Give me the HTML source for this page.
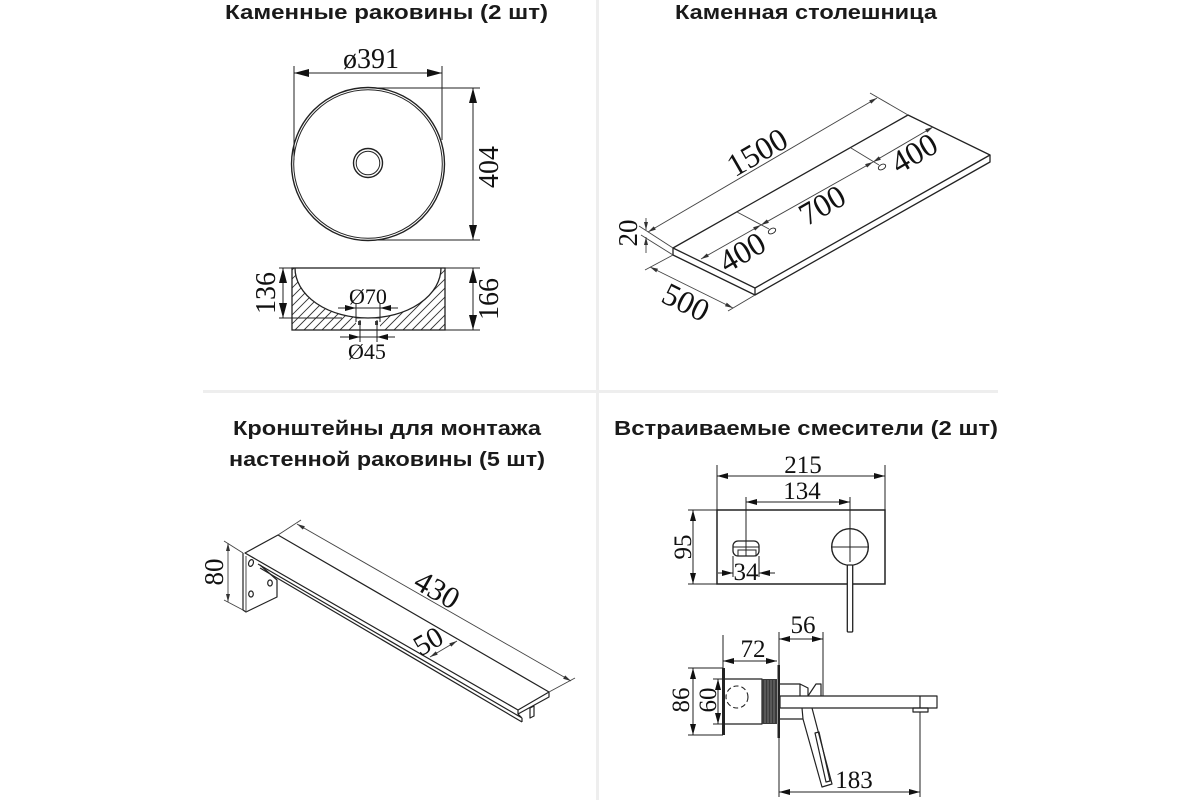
<!DOCTYPE html>
<html><head><meta charset="utf-8">
<style>
html,body{margin:0;padding:0;background:#fff;}
svg{display:block;}
.t{font-family:"Liberation Sans","DejaVu Sans",sans-serif;font-weight:700;font-size:20px;fill:#1a1a1a;}
.d{font-family:"Liberation Serif","DejaVu Serif",serif;fill:#111;}
</style></head><body>
<svg width="1200" height="800" viewBox="0 0 1200 800" xmlns="http://www.w3.org/2000/svg">
<defs>
<marker id="A" markerUnits="userSpaceOnUse" markerWidth="15" markerHeight="8" refX="15" refY="4" orient="auto-start-reverse"><path d="M0,0L15,4L0,8Z" fill="#111"/></marker>
<marker id="M" markerUnits="userSpaceOnUse" markerWidth="11" markerHeight="6" refX="11" refY="3" orient="auto-start-reverse"><path d="M0,0L11,3L0,6Z" fill="#111"/></marker>
<marker id="S" markerUnits="userSpaceOnUse" markerWidth="8" markerHeight="4" refX="8" refY="2" orient="auto-start-reverse"><path d="M0,0L8,2L0,4Z" fill="#333"/></marker>
<clipPath id="hc"><path clip-rule="evenodd" d="M292,268H445V330H292Z M295,268A73,50 0 0 0 441,268Z"/></clipPath>
</defs>

<!-- separators -->
<rect x="596" y="0" width="3" height="800" fill="#eeeeee"/>
<rect x="203" y="390" width="795" height="3" fill="#eeeeee"/>

<!-- titles -->
<text class="t" x="225" y="19" textLength="323" lengthAdjust="spacingAndGlyphs">Каменные раковины (2 шт)</text>
<text class="t" x="675" y="19" textLength="262" lengthAdjust="spacingAndGlyphs">Каменная столешница</text>
<text class="t" x="233" y="435" textLength="308" lengthAdjust="spacingAndGlyphs">Кронштейны для монтажа</text>
<text class="t" x="229" y="466" textLength="316" lengthAdjust="spacingAndGlyphs">настенной раковины (5 шт)</text>
<text class="t" x="614" y="435" textLength="384" lengthAdjust="spacingAndGlyphs">Встраиваемые смесители (2 шт)</text>

<!-- ===== SINK TOP ===== -->
<g stroke="#222" fill="none">
<circle cx="368" cy="164" r="76.5" stroke-width="1.4"/>
<circle cx="368" cy="164" r="74.3" stroke-width="1"/>
<circle cx="368" cy="163" r="14.5" stroke-width="1.4"/>
<circle cx="368" cy="163" r="11.8" stroke-width="1"/>
</g>
<g stroke="#222" stroke-width="1" fill="none">
<line x1="294" y1="66" x2="294" y2="160"/>
<line x1="442" y1="66" x2="442" y2="140"/>
<line x1="294" y1="73" x2="442" y2="73" marker-start="url(#A)" marker-end="url(#A)"/>
<line x1="372" y1="88" x2="480" y2="88"/>
<line x1="376" y1="240" x2="480" y2="240"/>
<line x1="473" y1="88" x2="473" y2="240" marker-start="url(#A)" marker-end="url(#A)"/>
</g>
<text class="d" x="371" y="68" font-size="28" text-anchor="middle">ø391</text>
<text class="d" font-size="28" text-anchor="middle" transform="translate(498,167) rotate(-90)">404</text>

<!-- ===== SINK SECTION ===== -->
<g clip-path="url(#hc)">
<path stroke="#333" stroke-width="0.9" fill="none" d="M232,330L294,268M241,330L303,268M250,330L312,268M259,330L321,268M268,330L330,268M277,330L339,268M286,330L348,268M295,330L357,268M304,330L366,268M313,330L375,268M322,330L384,268M331,330L393,268M340,330L402,268M349,330L411,268M358,330L420,268M367,330L429,268M376,330L438,268M385,330L447,268M394,330L456,268M403,330L465,268M412,330L474,268M421,330L483,268M430,330L492,268M439,330L501,268"/>
</g>
<rect x="356" y="316" width="24" height="14" fill="#fff"/>
<g stroke="#222" fill="none">
<rect x="292" y="268" width="153" height="62" stroke-width="1.3"/>
<path d="M295,268A73,50 0 0 0 441,268" stroke-width="1.3"/>
<path d="M356,318H380" stroke-width="1"/>
</g>
<rect x="358" y="321" width="3" height="4" fill="#444"/>
<rect x="375" y="321" width="3" height="4" fill="#444"/>
<g stroke="#222" stroke-width="1" fill="none">
<line x1="356" y1="303" x2="356" y2="322"/>
<line x1="380" y1="303" x2="380" y2="322"/>
<line x1="338" y1="308" x2="398" y2="308"/>
<line x1="338" y1="308" x2="356" y2="308" marker-end="url(#M)"/>
<line x1="398" y1="308" x2="380" y2="308" marker-end="url(#M)"/>
<line x1="360" y1="320" x2="360" y2="342"/>
<line x1="377" y1="320" x2="377" y2="342"/>
<line x1="340" y1="337" x2="395" y2="337"/>
<line x1="340" y1="337" x2="360" y2="337" marker-end="url(#M)"/>
<line x1="395" y1="337" x2="377" y2="337" marker-end="url(#M)"/>
<line x1="279" y1="268" x2="292" y2="268"/>
<line x1="279" y1="318" x2="342" y2="318"/>
<line x1="283" y1="268" x2="283" y2="318" marker-start="url(#A)" marker-end="url(#A)"/>
<line x1="445" y1="268" x2="480" y2="268"/>
<line x1="445" y1="330" x2="480" y2="330"/>
<line x1="473" y1="268" x2="473" y2="330" marker-start="url(#A)" marker-end="url(#A)"/>
</g>
<text class="d" x="368" y="304" font-size="22" text-anchor="middle">Ø70</text>
<text class="d" x="367" y="359" font-size="22" text-anchor="middle">Ø45</text>
<text class="d" font-size="28" text-anchor="middle" transform="translate(275,293) rotate(-90)">136</text>
<text class="d" font-size="28" text-anchor="middle" transform="translate(498,299) rotate(-90)">166</text>

<!-- ===== COUNTERTOP ===== -->
<g stroke="#222" stroke-width="1.3" fill="none" stroke-linejoin="round">
<path d="M673,248L908,115L990,155L755,288Z"/>
<path d="M673,248V255L755,295L990,162V155M755,288V295"/>
</g>
<g stroke="#444" stroke-width="0.9" fill="none">
<line x1="673" y1="248" x2="639" y2="226"/>
<line x1="908" y1="115" x2="870" y2="93"/>
<line x1="648" y1="232" x2="877" y2="98" marker-start="url(#S)" marker-end="url(#S)"/>
<line x1="673" y1="255" x2="641" y2="235"/>
<line x1="646" y1="218" x2="646" y2="230" marker-end="url(#S)"/>
<line x1="646" y1="253" x2="646" y2="237" marker-end="url(#S)"/>
<line x1="673" y1="255" x2="645" y2="270"/>
<line x1="755" y1="295" x2="728" y2="311"/>
<line x1="650" y1="267" x2="733" y2="308" marker-start="url(#S)" marker-end="url(#S)"/>
<line x1="737" y1="212" x2="769" y2="229"/>
<line x1="851" y1="148" x2="879" y2="165"/>
<line x1="701" y1="259" x2="761" y2="225" marker-start="url(#S)" marker-end="url(#S)"/>
<line x1="761" y1="225" x2="873" y2="162" marker-start="url(#S)" marker-end="url(#S)"/>
<line x1="873" y1="162" x2="933" y2="127" marker-start="url(#S)" marker-end="url(#S)"/>
<ellipse cx="772" cy="231" rx="4" ry="2.5" transform="rotate(-30 772 231)" stroke="#222"/>
<ellipse cx="882" cy="167" rx="4" ry="2.5" transform="rotate(-30 882 167)" stroke="#222"/>
</g>
<text class="d" font-size="32" text-anchor="middle" y="11" transform="translate(757,152) rotate(-30)">1500</text>
<text class="d" font-size="27" text-anchor="middle" transform="translate(637,233) rotate(-90)">20</text>
<text class="d" font-size="32" text-anchor="middle" y="11" transform="translate(686,302) rotate(26.5)">500</text>
<text class="d" font-size="32" text-anchor="middle" y="11" transform="translate(742,252) rotate(-30)">400</text>
<text class="d" font-size="32" text-anchor="middle" y="11" transform="translate(822,205) rotate(-30)">700</text>
<text class="d" font-size="32" text-anchor="middle" y="11" transform="translate(914,153) rotate(-30)">400</text>

<!-- ===== BRACKET ===== -->
<g stroke="#222" stroke-width="1.2" fill="none" stroke-linejoin="round">
<path d="M278,535L549,692L518,710L245,553Z"/>
<path d="M549,692V697L518,714V710"/>
<path d="M258,564L522,718M260,568L522,722M522,718V722M518,714L522,718"/>
<path d="M530,708L534,706V716L530,718Z"/>
<path d="M243,553V610L246,612L277,597V580L260,565"/>
<path d="M246,556V611" stroke-width="0.8"/>
<ellipse cx="251" cy="563" rx="2.3" ry="3.5" transform="rotate(20 251 563)"/>
<ellipse cx="270" cy="583" rx="2.3" ry="3"/>
<ellipse cx="251" cy="594" rx="2.3" ry="3"/>
</g>
<g stroke="#444" stroke-width="0.9" fill="none">
<line x1="224" y1="541" x2="243" y2="553"/>
<line x1="224" y1="600" x2="243" y2="610"/>
<line x1="228" y1="543" x2="228" y2="602" marker-start="url(#S)" marker-end="url(#S)"/>
<line x1="278" y1="535" x2="301" y2="520"/>
<line x1="549" y1="692" x2="575" y2="678"/>
<line x1="297" y1="524" x2="571" y2="681" marker-start="url(#S)" marker-end="url(#S)"/>
<line x1="430" y1="657" x2="457" y2="641" marker-start="url(#S)" marker-end="url(#S)"/>
</g>
<text class="d" font-size="27" text-anchor="middle" transform="translate(223,572) rotate(-90)">80</text>
<text class="d" font-size="31" text-anchor="middle" y="10" transform="translate(437,590) rotate(29.8)">430</text>
<text class="d" font-size="29" text-anchor="middle" y="10" transform="translate(428,641) rotate(-30)">50</text>

<!-- ===== MIXER FRONT ===== -->
<g stroke="#222" fill="none">
<rect x="717" y="510" width="168" height="74" stroke-width="1.5"/>
<rect x="733" y="541" width="26" height="15" rx="5" stroke-width="1.3"/>
<rect x="738" y="550" width="18" height="6" stroke-width="1"/>
<line x1="733" y1="547" x2="759" y2="547" stroke-width="1"/>
<circle cx="850" cy="547" r="18.3" stroke-width="1.4"/>
<line x1="831" y1="547" x2="869" y2="547" stroke-width="1"/>
<rect x="847.3" y="565" width="5.4" height="67" rx="1" stroke-width="1.3" fill="#fff"/>
</g>
<g stroke="#222" stroke-width="1" fill="none">
<line x1="717" y1="465" x2="717" y2="510"/>
<line x1="885" y1="465" x2="885" y2="510"/>
<line x1="717" y1="476" x2="885" y2="476" marker-start="url(#M)" marker-end="url(#M)"/>
<line x1="746" y1="497" x2="746" y2="556"/>
<line x1="850" y1="497" x2="850" y2="562"/>
<line x1="746" y1="502" x2="850" y2="502" marker-start="url(#M)" marker-end="url(#M)"/>
<line x1="688" y1="510" x2="717" y2="510"/>
<line x1="688" y1="584" x2="717" y2="584"/>
<line x1="693" y1="510" x2="693" y2="584" marker-start="url(#M)" marker-end="url(#M)"/>
<line x1="733" y1="556" x2="733" y2="577"/>
<line x1="759" y1="556" x2="759" y2="577"/>
<line x1="718" y1="573" x2="733" y2="573" marker-end="url(#M)"/>
<line x1="775" y1="573" x2="759" y2="573" marker-end="url(#M)"/>
</g>
<text class="d" x="803" y="473" font-size="25" text-anchor="middle">215</text>
<text class="d" x="802" y="499" font-size="25" text-anchor="middle">134</text>
<text class="d" font-size="25" text-anchor="middle" transform="translate(691,547) rotate(-90)">95</text>
<text class="d" x="746" y="580" font-size="25" text-anchor="middle">34</text>

<!-- ===== MIXER SIDE ===== -->
<g stroke="#222" fill="none" stroke-width="1.2" stroke-linejoin="round">
<rect x="723" y="679" width="39" height="45"/>
<circle cx="737" cy="697" r="11" stroke-dasharray="5 3" stroke-width="1.1"/>
<rect x="780" y="696" width="157" height="12"/>
<line x1="920" y1="696" x2="920" y2="708"/>
<rect x="913" y="708" width="15" height="4"/>
<path d="M780,684H800L808,688V696M800,684V696"/>
<path d="M808,696L816,684H821V696"/>
<path d="M780,719H803L802,708M812,708L832,784L822,787L803,719"/>
<path d="M815,733L819,732L830,781L826,782Z"/>
</g>
<rect x="762" y="679" width="15" height="45" fill="#3a3a3a"/>
<g stroke="#888" stroke-width="0.8">
<line x1="765" y1="680" x2="765" y2="723"/>
<line x1="768" y1="680" x2="768" y2="723"/>
<line x1="771" y1="680" x2="771" y2="723"/>
<line x1="774" y1="680" x2="774" y2="723"/>
</g>
<rect x="777.5" y="665" width="2.5" height="73" fill="#222"/>
<rect x="722" y="668" width="3" height="67" fill="#222"/>
<g stroke="#222" stroke-width="1" fill="none">
<line x1="779" y1="632" x2="779" y2="797"/>
<line x1="823" y1="632" x2="823" y2="696"/>
<line x1="779" y1="639" x2="823" y2="639" marker-start="url(#M)" marker-end="url(#M)"/>
<line x1="723" y1="635" x2="723" y2="668"/>
<line x1="723" y1="661" x2="777" y2="661" marker-start="url(#M)" marker-end="url(#M)"/>
<line x1="688" y1="668" x2="723" y2="668"/>
<line x1="688" y1="735" x2="723" y2="735"/>
<line x1="693" y1="668" x2="693" y2="735" marker-start="url(#M)" marker-end="url(#M)"/>
<line x1="713" y1="679" x2="723" y2="679"/>
<line x1="713" y1="724" x2="723" y2="724"/>
<line x1="718" y1="679" x2="718" y2="724" marker-start="url(#M)" marker-end="url(#M)"/>
<line x1="920" y1="712" x2="920" y2="797"/>
<line x1="779" y1="792" x2="920" y2="792" marker-start="url(#M)" marker-end="url(#M)"/>
</g>
<text class="d" x="803" y="633" font-size="25" text-anchor="middle">56</text>
<text class="d" x="753" y="657" font-size="25" text-anchor="middle">72</text>
<text class="d" font-size="25" text-anchor="middle" transform="translate(689,700) rotate(-90)">86</text>
<text class="d" font-size="25" text-anchor="middle" transform="translate(716,700) rotate(-90)">60</text>
<text class="d" x="854" y="788" font-size="25" text-anchor="middle">183</text>
</svg>
</body></html>
